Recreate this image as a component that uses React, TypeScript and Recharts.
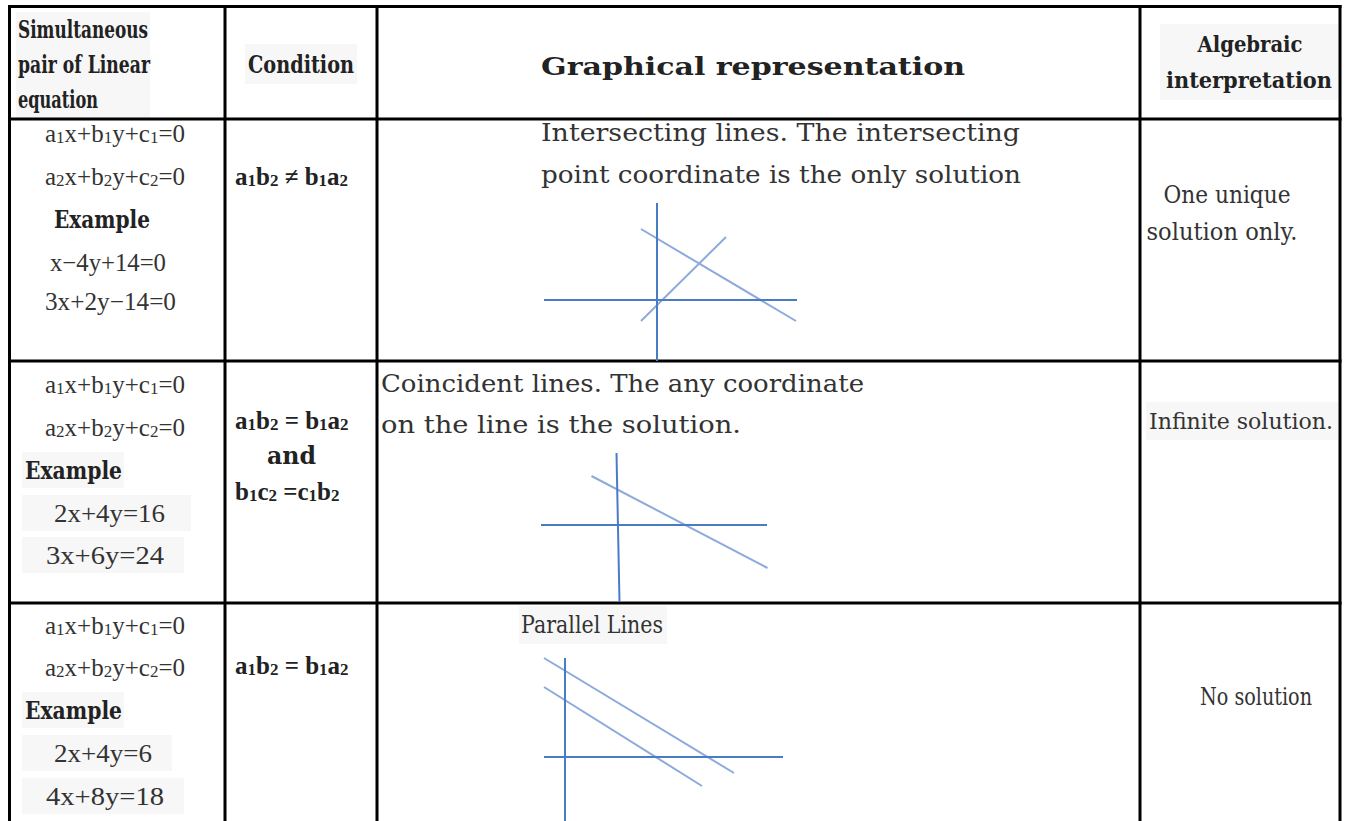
import { LineChart, Line, XAxis, YAxis } from "recharts";

// table text
const headerSystem = ["Simultaneous", "pair of Linear", "equation"];
const headerCondition = "Condition";
const headerGraph = "Graphical representation";
const headerAlgebra = ["Algebraic", "interpretation"];

const generalPair = ["a₁x+b₁y+c₁=0", "a₂x+b₂y+c₂=0"];
const exampleLabel = "Example";
const intersectExample = ["x−4y+14=0", "3x+2y−14=0"];
const coincidentExample = ["2x+4y=16", "3x+6y=24"];
const parallelExample = ["2x+4y=6", "4x+8y=18"];

const intersectCondition = ["a₁b₂ ≠ b₁a₂"];
const coincidentCondition = ["a₁b₂ = b₁a₂", "and", "b₁c₂ =c₁b₂"];
const parallelCondition = ["a₁b₂ = b₁a₂"];

const intersectText = ["Intersecting lines. The intersecting", "point coordinate is the only solution"];
const coincidentText = ["Coincident lines. The any coordinate", "on the line is the solution."];
const parallelText = ["Parallel Lines"];

const intersectResult = ["One unique", "solution only."];
const coincidentResult = ["Infinite solution."];
const parallelResult = ["No solution"];

// sketch data, units of the little graphs (origin = axes crossing)
const intersectXAxis = [{ x: -11.3, y: 0 }, { x: 14.0, y: 0 }];
const intersectYAxis = [{ x: 0, y: 9.7 }, { x: 0, y: -6.1 }];
const intersectLineA = [{ x: -1.6, y: 7.1 }, { x: 13.9, y: -2.1 }];
const intersectLineB = [{ x: -1.6, y: -2.1 }, { x: 6.9, y: 6.3 }];

const coincidentXAxis = [{ x: -7.7, y: 0 }, { x: 14.9, y: 0 }];
const coincidentYAxis = [{ x: -0.15, y: 7.2 }, { x: 0.15, y: -7.7 }];
const coincidentLine = [{ x: -2.65, y: 4.9 }, { x: 14.95, y: -4.3 }];

const parallelXAxis = [{ x: -2.1, y: 0 }, { x: 21.8, y: 0 }];
const parallelYAxis = [{ x: 0, y: 9.9 }, { x: 0, y: -6.4 }];
const parallelLineA = [{ x: -2.1, y: 9.9 }, { x: 16.9, y: -1.6 }];
const parallelLineB = [{ x: -2.1, y: 7.0 }, { x: 13.7, y: -2.9 }];

const AXIS_BLUE = "#4a7cc6";
const LINE_BLUE = "#8caadb";
const TEXT = "#333333";
const HEAD = "#222222";
const FONT = "'DejaVu Serif', serif";
const EQ_FONT = "'Liberation Serif', serif";
const UNIT = 10;

type Pt = { x: number; y: number };

interface DiagramProps {
  ox: number;
  oy: number;
  xDomain: [number, number];
  yDomain: [number, number];
  axes: Pt[][];
  lines: Pt[][];
}

function Diagram({ ox, oy, xDomain, yDomain, axes, lines }: DiagramProps) {
  const width = (xDomain[1] - xDomain[0]) * UNIT;
  const height = (yDomain[1] - yDomain[0]) * UNIT;
  return (
    <div style={{ position: "absolute", left: ox + xDomain[0] * UNIT, top: oy - yDomain[1] * UNIT }}>
      <LineChart width={width} height={height} margin={{ top: 0, right: 0, bottom: 0, left: 0 }}>
        <XAxis type="number" dataKey="x" domain={xDomain} hide />
        <YAxis type="number" domain={yDomain} hide />
        {lines.map((d, i) => (
          <Line key={"l" + i} data={d} dataKey="y" type="linear" stroke={LINE_BLUE} strokeWidth={2}
            dot={false} activeDot={false} isAnimationActive={false} />
        ))}
        {axes.map((d, i) => (
          <Line key={"a" + i} data={d} dataKey="y" type="linear" stroke={AXIS_BLUE} strokeWidth={2}
            dot={false} activeDot={false} isAnimationActive={false} />
        ))}
      </LineChart>
    </div>
  );
}

// split "a₁x" into normal runs and subscript runs
const SUBS: Record<string, string> = { "₁": "1", "₂": "2" };
function runs(s: string) {
  const out: { t: string; sub: boolean }[] = [];
  for (const ch of s) {
    const sub = ch in SUBS;
    const c = sub ? SUBS[ch] : ch;
    const last = out[out.length - 1];
    if (last && last.sub === sub) last.t += c;
    else out.push({ t: c, sub });
  }
  return out;
}

type T = { s: string; x: number; y: number; w: number; bold?: boolean; mid?: boolean; size?: number; eq?: boolean };

function Txt({ s, x, y, w, bold, mid, size, eq }: T) {
  const parts = runs(s);
  const hasSub = parts.some((p) => p.sub);
  let shifted = false;
  return (
    <text x={x} y={y} dominantBaseline="central" textAnchor={mid ? "middle" : "start"}
      textLength={hasSub ? undefined : w} lengthAdjust="spacingAndGlyphs"
      fontFamily={eq ? EQ_FONT : FONT}
      fontSize={size ?? 24} fontWeight={bold ? 700 : 400} fill={bold ? HEAD : TEXT}>
      {hasSub
        ? parts.map((p, i) => {
            let dy = 0;
            if (p.sub && !shifted) { dy = 4; shifted = true; }
            else if (!p.sub && shifted) { dy = -4; shifted = false; }
            return (
              <tspan key={i} dy={dy || undefined} fontSize={p.sub ? 17 : undefined}>{p.t}</tspan>
            );
          })
        : s}
    </text>
  );
}

export default function App() {
  const eqLeft = 45;
  const items: T[] = [
    // header
    { s: headerSystem[0], x: 18, y: 29, w: 130, bold: true },
    { s: headerSystem[1], x: 18, y: 64, w: 132, bold: true },
    { s: headerSystem[2], x: 18, y: 99, w: 80, bold: true },
    { s: headerCondition, x: 301, y: 64, w: 106, bold: true, mid: true },
    { s: headerGraph, x: 753, y: 66, w: 424, bold: true, mid: true },
    { s: headerAlgebra[0], x: 1250, y: 44, w: 105, bold: true, mid: true, size: 22 },
    { s: headerAlgebra[1], x: 1249, y: 80, w: 166, bold: true, mid: true, size: 22 },
    // row 1
    { s: generalPair[0], x: eqLeft, y: 133, w: 137, eq: true, size: 25 },
    { s: generalPair[1], x: eqLeft, y: 176, w: 137, eq: true, size: 25 },
    { s: exampleLabel, x: 54, y: 219, w: 96, bold: true },
    { s: intersectExample[0], x: 50, y: 262, w: 116, eq: true, size: 25 },
    { s: intersectExample[1], x: 45, y: 301, w: 131, eq: true, size: 25 },
    { s: intersectCondition[0], x: 235, y: 176, w: 115, bold: true, eq: true, size: 25 },
    { s: intersectText[0], x: 541, y: 133, w: 479 },
    { s: intersectText[1], x: 541, y: 175, w: 480 },
    { s: intersectResult[0], x: 1227, y: 195, w: 127, mid: true },
    { s: intersectResult[1], x: 1222, y: 232, w: 151, mid: true },
    // row 2
    { s: generalPair[0], x: eqLeft, y: 384, w: 137, eq: true, size: 25 },
    { s: generalPair[1], x: eqLeft, y: 427, w: 137, eq: true, size: 25 },
    { s: exampleLabel, x: 25, y: 470, w: 97, bold: true },
    { s: coincidentExample[0], x: 54, y: 513, w: 111, eq: true, size: 25 },
    { s: coincidentExample[1], x: 46, y: 555, w: 118, eq: true, size: 25 },
    { s: coincidentCondition[0], x: 235, y: 420, w: 115, bold: true, eq: true, size: 25 },
    { s: coincidentCondition[1], x: 267, y: 455, w: 49, bold: true },
    { s: coincidentCondition[2], x: 235, y: 491, w: 100, bold: true, eq: true, size: 25 },
    { s: coincidentText[0], x: 381, y: 384, w: 483 },
    { s: coincidentText[1], x: 381, y: 425, w: 360 },
    { s: coincidentResult[0], x: 1149, y: 421, w: 184, size: 22 },
    // row 3
    { s: generalPair[0], x: eqLeft, y: 625, w: 137, eq: true, size: 25 },
    { s: generalPair[1], x: eqLeft, y: 667, w: 137, eq: true, size: 25 },
    { s: exampleLabel, x: 25, y: 710, w: 97, bold: true },
    { s: parallelExample[0], x: 54, y: 753, w: 98, eq: true, size: 25 },
    { s: parallelExample[1], x: 46, y: 796, w: 118, eq: true, size: 25 },
    { s: parallelCondition[0], x: 235, y: 665, w: 115, bold: true, eq: true, size: 25 },
    { s: parallelText[0], x: 521, y: 625, w: 142 },
    { s: parallelResult[0], x: 1256, y: 697, w: 112, mid: true },
  ];

  // faint highlight boxes behind some text runs
  const shades = [
    [16, 12, 134, 106], [245, 44, 112, 40], [1160, 24, 178, 76],
    [22, 452, 102, 36], [22, 495, 169, 36], [22, 537, 162, 36],
    [22, 692, 102, 36], [22, 735, 150, 36], [22, 778, 162, 36],
    [1146, 402, 192, 38], [519, 606, 148, 38],
  ];

  const hLines = [6.5, 119, 361, 603];
  const vLines = [9.5, 225, 377, 1140, 1340];

  return (
    <div style={{ position: "absolute", left: 0, top: 0, width: 1347, height: 821, overflow: "hidden", background: "#fff" }}>
      <svg width={1347} height={821} style={{ position: "absolute", left: 0, top: 0 }}>
        {shades.map(([x, y, w, h], i) => (
          <rect key={"s" + i} x={x} y={y} width={w} height={h} fill="#f7f7f7" />
        ))}
        {hLines.map((y) => (
          <line key={"h" + y} x1={8} x2={1341.5} y1={y} y2={y} stroke="#000" strokeWidth={3} />
        ))}
        {vLines.map((x) => (
          <line key={"v" + x} x1={x} x2={x} y1={5} y2={821} stroke="#000" strokeWidth={3} />
        ))}
        {items.map((t, i) => <Txt key={i} {...t} />)}
      </svg>

      <Diagram ox={657} oy={300} xDomain={[-12.5, 15]} yDomain={[-7.5, 11]}
        axes={[intersectXAxis, intersectYAxis]} lines={[intersectLineA, intersectLineB]} />
      <Diagram ox={617.5} oy={525} xDomain={[-9, 16]} yDomain={[-9, 8.5]}
        axes={[coincidentXAxis, coincidentYAxis]} lines={[coincidentLine]} />
      <Diagram ox={565} oy={757} xDomain={[-3.5, 23]} yDomain={[-7.5, 11]}
        axes={[parallelXAxis, parallelYAxis]} lines={[parallelLineA, parallelLineB]} />
    </div>
  );
}
